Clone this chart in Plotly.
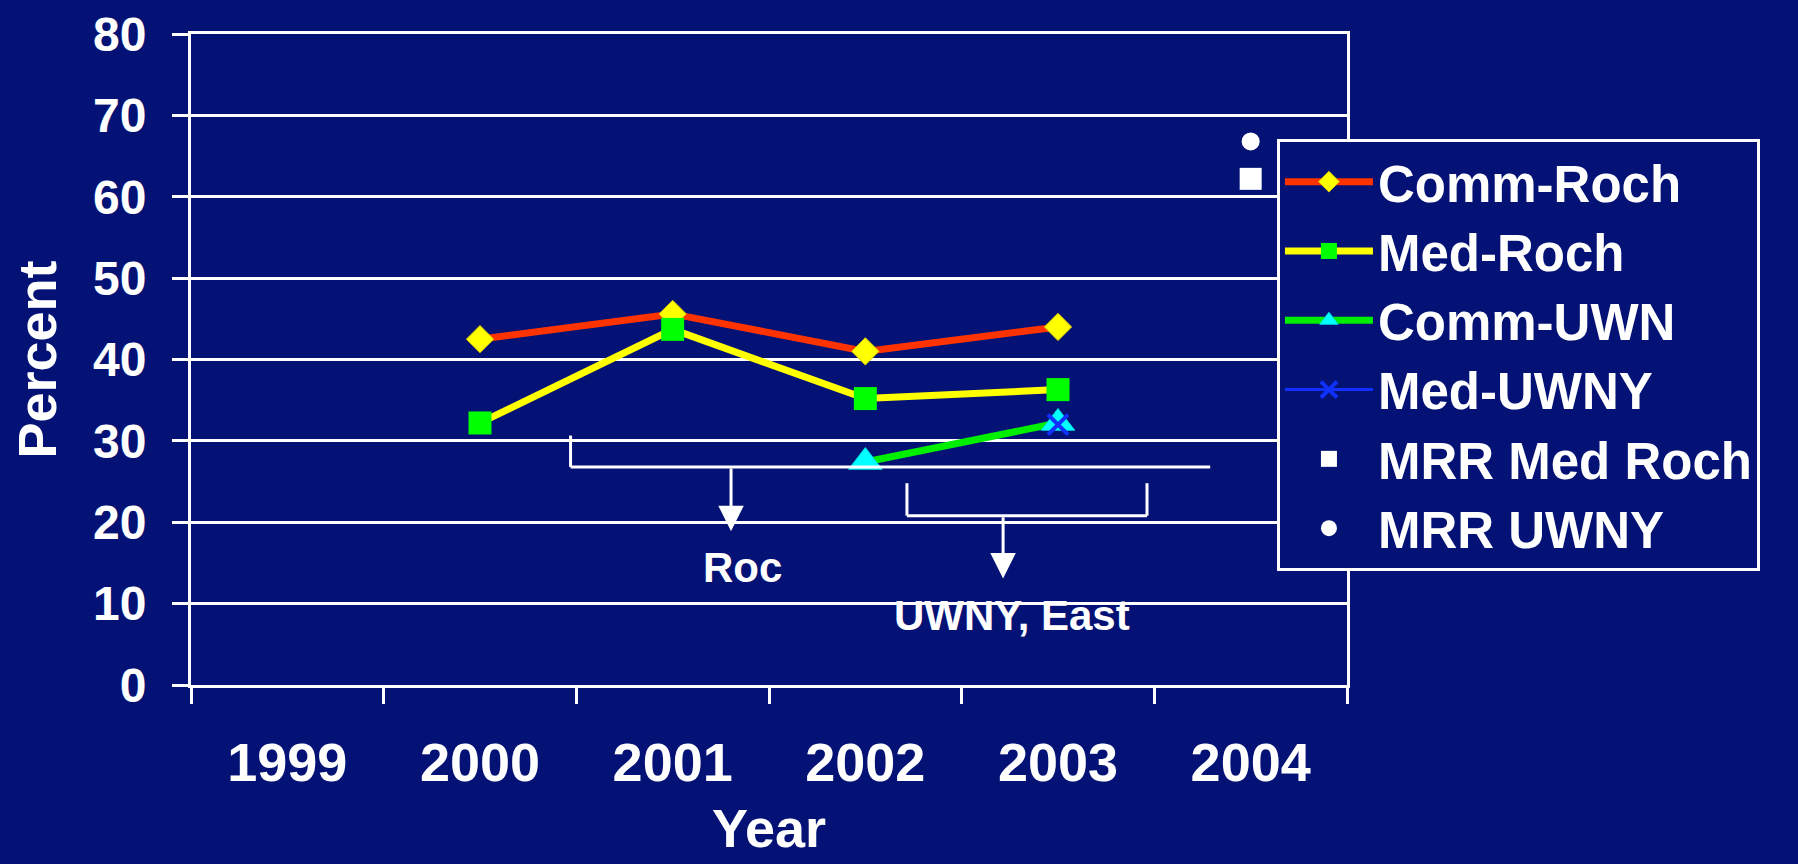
import plotly.graph_objects as go

# Categories and values (percent)
years = ["1999", "2000", "2001", "2002", "2003", "2004"]

comm_roch_years = ["2000", "2001", "2002", "2003"]
comm_roch = [42.5, 45.6, 41.0, 44.0]

med_roch_years = ["2000", "2001", "2002", "2003"]
med_roch = [32.2, 43.7, 35.2, 36.3]

comm_uwn_years = ["2002", "2003"]
comm_uwn = [27.4, 32.2]

med_uwny_years = ["2003"]
med_uwny = [32.0]

mrr_years = ["2004"]
mrr_med_roch = [62.2]
mrr_uwny = [66.8]

y_ticks = [0, 10, 20, 30, 40, 50, 60, 70, 80]

NAVY = "#041275"
WHITE = "#FFFFFF"
FONT = "Liberation Sans, Arial, sans-serif"

fig = go.Figure()

fig.add_trace(go.Scatter(
    x=comm_roch_years, y=comm_roch, name="Comm-Roch", mode="lines+markers",
    line=dict(color="#FF3300", width=7),
    marker=dict(symbol="diamond", size=21, color="#FFFF00",
                line=dict(color="#D8C800", width=1)),
))
fig.add_trace(go.Scatter(
    x=med_roch_years, y=med_roch, name="Med-Roch", mode="lines+markers",
    line=dict(color="#FFFF00", width=7),
    marker=dict(symbol="square", size=23, color="#00FF00", line=dict(width=0)),
))
fig.add_trace(go.Scatter(
    x=comm_uwn_years, y=comm_uwn, name="Comm-UWN", mode="lines+markers",
    line=dict(color="#00EE00", width=7),
    marker=dict(symbol="triangle-up", size=29, color="#00FFFF",
                line=dict(color="#00DDDD", width=1)),
))
fig.add_trace(go.Scatter(
    x=med_uwny_years, y=med_uwny, name="Med-UWNY", mode="lines+markers",
    line=dict(color="#1030FF", width=3),
    marker=dict(symbol="x-thin", size=20, color="#1030FF",
                line=dict(color="#1030FF", width=4)),
))
fig.add_trace(go.Scatter(
    x=mrr_years, y=mrr_med_roch, name="MRR Med Roch", mode="markers",
    marker=dict(symbol="square", size=22, color=WHITE, line=dict(width=0)),
))
fig.add_trace(go.Scatter(
    x=mrr_years, y=mrr_uwny, name="MRR UWNY", mode="markers",
    marker=dict(symbol="circle", size=18, color=WHITE, line=dict(width=0)),
))

# Bracket lines grouping the survey years
bracket = dict(color=WHITE, width=3)
shapes = [
    # Rochester bracket
    dict(type="line", xref="x", yref="y", x0=1.47, x1=1.47, y0=30.65, y1=26.8, line=bracket),
    dict(type="line", xref="x", yref="y", x0=1.47, x1=4.79, y0=26.8, y1=26.8, line=bracket),
    # UWNY / East bracket
    dict(type="line", xref="x", yref="y", x0=3.216, x1=3.216, y0=24.8, y1=20.8, line=bracket),
    dict(type="line", xref="x", yref="y", x0=4.462, x1=4.462, y0=24.8, y1=20.8, line=bracket),
    dict(type="line", xref="x", yref="y", x0=3.216, x1=4.462, y0=20.8, y1=20.8, line=bracket),
]

annotations = [
    # Down arrows from the brackets
    dict(x=2.303, y=18.9, ax=2.303, ay=26.8, xref="x", yref="y", axref="x", ayref="y",
         text="", showarrow=True, arrowhead=2, arrowsize=1.7, arrowwidth=3,
         arrowcolor=WHITE, standoff=0),
    dict(x=3.715, y=13.1, ax=3.715, ay=20.8, xref="x", yref="y", axref="x", ayref="y",
         text="", showarrow=True, arrowhead=2, arrowsize=1.7, arrowwidth=3,
         arrowcolor=WHITE, standoff=0),
    dict(x=2.365, y=14.4, xref="x", yref="y", text="Roc", showarrow=False,
         font=dict(family=FONT, size=42, color=WHITE, weight=700)),
    dict(x=3.762, y=8.6, xref="x", yref="y", text="UWNY, East", showarrow=False,
         font=dict(family=FONT, size=42, color=WHITE, weight=700)),
    # X-axis title, sitting low near the bottom edge of the page
    dict(x=0.5, y=-0.22, xref="paper", yref="paper", text="Year", showarrow=False,
         xanchor="center", yanchor="middle",
         font=dict(family=FONT, size=54, color=WHITE, weight=700)),
]

fig.update_layout(
    width=1798, height=864, autosize=False,
    paper_bgcolor=NAVY, plot_bgcolor=NAVY,
    margin=dict(l=191, r=451, t=34, b=179, autoexpand=False),
    font=dict(family=FONT, color=WHITE, weight=700),
    shapes=shapes, annotations=annotations,
    showlegend=True,
    legend=dict(
        x=0.9394, y=0.8387, xanchor="left", yanchor="top",
        bgcolor=NAVY, bordercolor=WHITE, borderwidth=3,
        font=dict(family=FONT, size=51, color=WHITE, weight=700),
        itemwidth=88, traceorder="normal",
    ),
)

fig.update_xaxes(
    type="category", categoryorder="array", categoryarray=years,
    range=[-0.5, 5.5], tickson="boundaries",
    showgrid=False, showline=True, linecolor=WHITE, linewidth=3, mirror=True,
    ticks="outside", ticklen=16, tickwidth=3, tickcolor=WHITE,
    ticklabelstandoff=28,
    tickfont=dict(family=FONT, size=54, color=WHITE, weight=700),
    zeroline=False, automargin=False,
)

fig.update_yaxes(
    range=[0, 80], tickvals=y_ticks,
    showgrid=True, gridcolor=WHITE, gridwidth=3,
    showline=True, linecolor=WHITE, linewidth=3, mirror=True,
    ticks="outside", ticklen=16, tickwidth=3, tickcolor=WHITE,
    ticklabelstandoff=16,
    tickfont=dict(family=FONT, size=48, color=WHITE, weight=700),
    title=dict(text="Percent", standoff=20,
               font=dict(family=FONT, size=54, color=WHITE, weight=700)),
    zeroline=False, automargin=False,
)

fig.write_html("out.html")
